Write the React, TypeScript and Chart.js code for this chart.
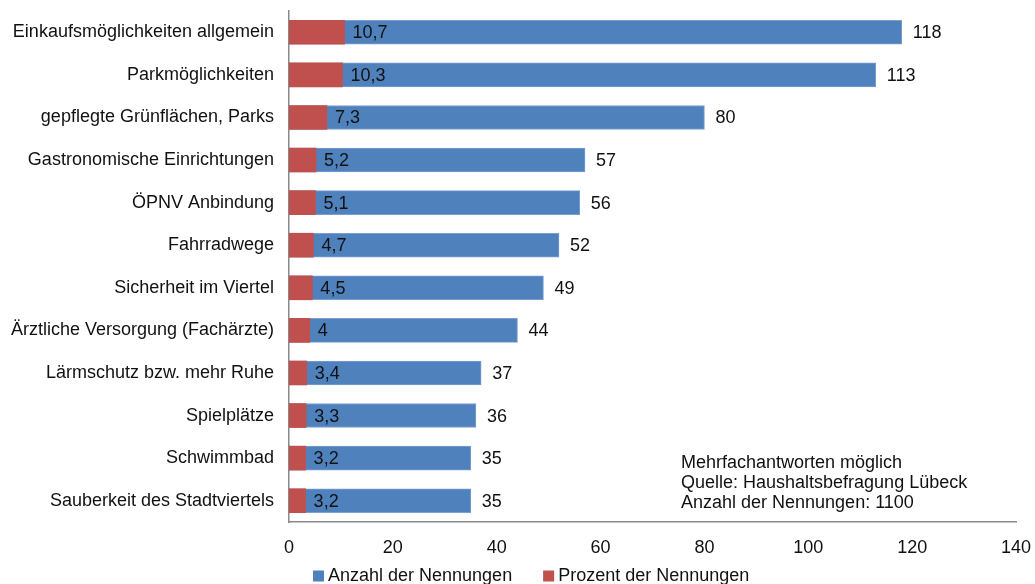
import React, { useEffect, useRef } from "react";
import { Chart, registerables } from "chart.js";

Chart.register(...registerables);

const categories = [
  "Einkaufsmöglichkeiten allgemein",
  "Parkmöglichkeiten",
  "gepflegte Grünflächen, Parks",
  "Gastronomische Einrichtungen",
  "ÖPNV Anbindung",
  "Fahrradwege",
  "Sicherheit im Viertel",
  "Ärztliche Versorgung (Fachärzte)",
  "Lärmschutz bzw. mehr Ruhe",
  "Spielplätze",
  "Schwimmbad",
  "Sauberkeit des Stadtviertels",
];

const counts = [118, 113, 80, 57, 56, 52, 49, 44, 37, 36, 35, 35];
const percents = [10.7, 10.3, 7.3, 5.2, 5.1, 4.7, 4.5, 4, 3.4, 3.3, 3.2, 3.2];

const seriesLabels = ["Anzahl der Nennungen", "Prozent der Nennungen"];
const xMin = 0;
const xMax = 140;
const xStep = 20;

const noteLines = [
  "Mehrfachantworten möglich",
  "Quelle: Haushaltsbefragung Lübeck",
  "Anzahl der Nennungen: 1100",
];

const BLUE = "#4F81BD";
const RED = "#C0504D";
const FONT = '"Liberation Sans", Arial, sans-serif';
const FS = 18;
const TEXT = "#111";

const fmt = (v: number) => String(v).replace(".", ",");

const labelPlugin = {
  id: "valueLabels",
  afterDatasetsDraw(chart: any) {
    const ctx = chart.ctx;
    ctx.save();
    ctx.font = `${FS}px ${FONT}`;
    ctx.fillStyle = TEXT;
    ctx.textAlign = "left";
    ctx.textBaseline = "middle";
    chart.data.datasets.forEach((ds: any, di: number) => {
      const meta = chart.getDatasetMeta(di);
      const off = di === 0 ? 11 : 8;
      meta.data.forEach((el: any, i: number) => {
        ctx.fillText(fmt(ds.data[i]), el.x + off, el.y + 1);
      });
    });
    ctx.restore();
  },
  afterDraw(chart: any) {
    const ctx = chart.ctx;
    ctx.save();
    ctx.font = `${FS}px ${FONT}`;
    ctx.fillStyle = TEXT;
    ctx.textAlign = "left";
    ctx.textBaseline = "middle";
    noteLines.forEach((t, i) => {
      ctx.fillText(t, 681, 463 + i * 20);
    });
    let x = 313;
    const y = 576;
    const box = 11;
    chart.data.datasets.forEach((ds: any) => {
      ctx.fillStyle = ds.backgroundColor;
      ctx.fillRect(x, y - box / 2, box, box);
      x += box + 4;
      ctx.fillStyle = TEXT;
      ctx.fillText(ds.label, x, y);
      x += ctx.measureText(ds.label).width + 31;
    });
    ctx.restore();
  },
};

export default function App() {
  const ref = useRef<HTMLCanvasElement | null>(null);

  useEffect(() => {
    if (!ref.current) return;
    const chart = new Chart(ref.current, {
      type: "bar",
      data: {
        labels: categories,
        datasets: [
          {
            label: seriesLabels[0],
            data: counts,
            backgroundColor: BLUE,
            borderColor: "#7A9FD0",
            borderWidth: 1,
            borderSkipped: false,
            order: 1,
            barThickness: 24,
            grouped: false,
          } as any,
          {
            label: seriesLabels[1],
            data: percents,
            backgroundColor: RED,
            order: 0,
            barThickness: 24,
            grouped: false,
          } as any,
        ],
      },
      options: {
        indexAxis: "y",
        animation: false,
        responsive: true,
        maintainAspectRatio: false,
        layout: { padding: { top: 11, right: 19, bottom: 26, left: 0 } },
        plugins: {
          legend: { display: false },
          tooltip: { enabled: false },
        },
        scales: {
          x: {
            min: xMin,
            max: xMax,
            grid: { display: false, drawTicks: false },
            border: { display: true, color: "#898989", width: 1.5 },
            ticks: {
              stepSize: xStep,
              padding: 15,
              color: TEXT,
              font: { family: FONT, size: FS },
            },
            afterFit: (s: any) => {
              s.height = 36;
              s.paddingLeft = 0;
              s.paddingRight = 0;
            },
          },
          y: {
            grid: { display: false, drawTicks: false },
            border: { display: true, color: "#898989", width: 1.5 },
            ticks: {
              padding: 15,
              color: TEXT,
              font: { family: FONT, size: FS },
              autoSkip: false,
            },
            afterFit: (s: any) => {
              s.width = 289;
              s.paddingTop = 0;
              s.paddingBottom = 0;
            },
          },
        },
      },
      plugins: [labelPlugin],
    });
    return () => chart.destroy();
  }, []);

  return (
    <div style={{ position: "absolute", left: 0, top: 0, width: 1035, height: 584 }}>
      <canvas ref={ref} />
    </div>
  );
}
